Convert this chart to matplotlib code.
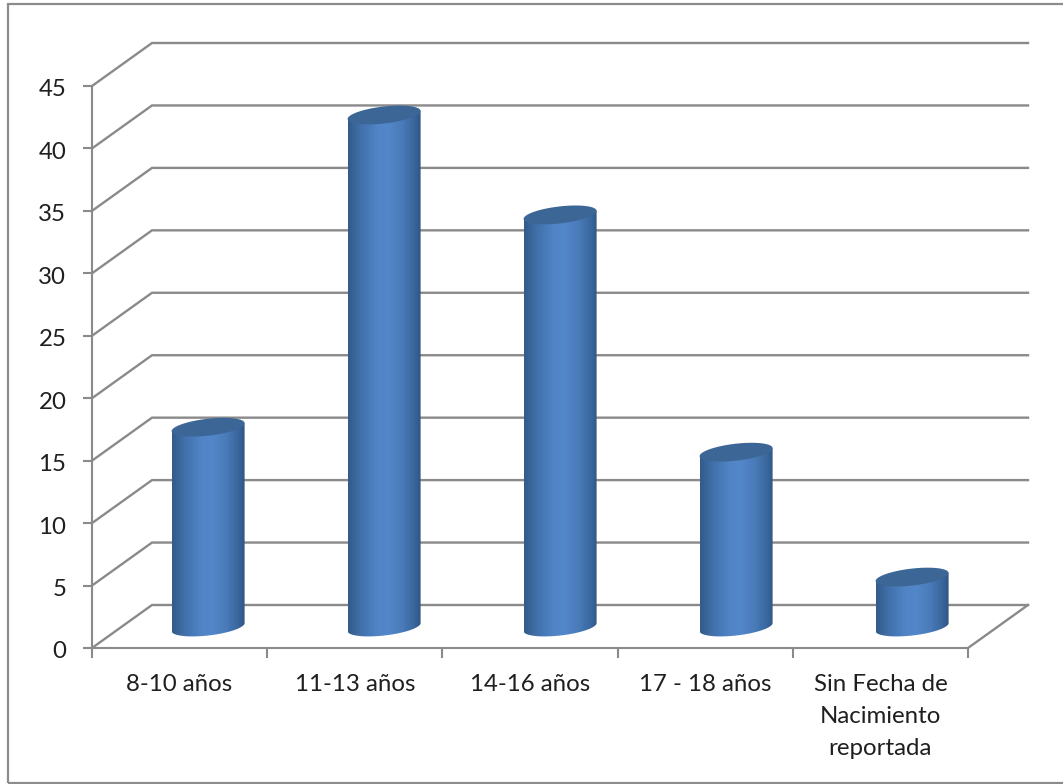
import numpy as np
import matplotlib
matplotlib.use("Agg")
import matplotlib.pyplot as plt
from matplotlib.patches import PathPatch, Rectangle
from matplotlib.path import Path
from matplotlib.transforms import ScaledTranslation

plt.rcParams['font.family'] = ['Lato', 'DejaVu Sans']

categorias = ['8-10 años', '11-13 años', '14-16 años', '17 - 18 años',
              'Sin Fecha de\nNacimiento\nreportada']
valores = [16, 41, 33, 14, 4]
ticks_y = [0, 5, 10, 15, 20, 25, 30, 35, 40, 45]

W, H = 1063, 784
GRIS = '#8a8a8a'
TEXTO = '#1f1f1f'

fig = plt.figure(figsize=(W/100, H/100), dpi=100, facecolor='white')
# marco exterior del grafico (el lado derecho queda fuera de la imagen)
fig.add_artist(Rectangle((8/W, 1-783/H), (1080-8)/W, (783-4)/H, transform=fig.transFigure,
                         fill=False, ec='#8c8c8c', lw=1.6))

# el eje ocupa solo el plano frontal; lo demas se dibuja fuera sin recorte
x0, x1, y0, y1 = 92, 968, 648, 86
ax = fig.add_axes([x0/W, 1-y0/H, (x1-x0)/W, (y0-y1)/H])
ax.set_xlim(0, 5)
ax.set_ylim(0, 45)
ax.patch.set_visible(False)
for s in ['top', 'right']:
    ax.spines[s].set_visible(False)
for s in ['left', 'bottom']:
    ax.spines[s].set_color(GRIS)
    ax.spines[s].set_linewidth(1.5)

px_x = 5/(x1-x0)
px_y = 45/(y0-y1)
prof_x = 60*px_x
prof_y = 43*px_y

# rejilla con perspectiva
for t in ticks_y:
    ax.plot([0, prof_x, 5+prof_x], [t, t+prof_y, t+prof_y], color=GRIS, lw=1.7,
            clip_on=False, solid_joinstyle='miter', zorder=1)
ax.plot([5, 5+prof_x], [0, prof_y], color=GRIS, lw=1.7, clip_on=False, zorder=1)

# barras cilindricas
a = 36.5*px_x
b = 8.5*px_y
incl = 4*px_y
desp_x = 28.5*px_x
paso = 176*px_x
base = 1.68
grad = np.array([0.0, 0.18, 0.4, 0.55, 0.75, 0.92, 1.0])
c1 = np.array(matplotlib.colors.to_rgb('#2e5685'))
c2 = np.array(matplotlib.colors.to_rgb('#5287ca'))
tono = np.array([0.1, 0.55, 0.95, 1.0, 0.75, 0.3, 0.0])
u = np.linspace(0, 1, 200)
mezcla = np.interp(u, grad, tono)
img = (c1[None, :]*(1-mezcla[:, None]) + c2[None, :]*mezcla[:, None])[None, :, :]

for i, v in enumerate(valores):
    cx = 0.5+i*paso+desp_x
    arriba = v+base
    t = np.linspace(np.pi, 2*np.pi, 60)
    # cara inferior del cuerpo y cierre por arriba
    xs = np.concatenate([cx+a*np.cos(t), cx+a*np.cos(t[::-1])])
    ys = np.concatenate([base+b*np.sin(t)+incl*np.cos(t), arriba+incl*np.cos(t[::-1])])
    im = ax.imshow(img, extent=[cx-a, cx+a, 0, arriba+2], aspect='auto', zorder=3, clip_on=True)
    im.set_clip_path(PathPatch(Path(np.column_stack([xs, ys])), transform=ax.transData))
    t2 = np.linspace(0, 2*np.pi, 120)
    ax.fill(cx+a*np.cos(t2), arriba+b*np.sin(t2)+incl*np.cos(t2), color='#3c6696', lw=0,
            zorder=4, clip_on=False)

ax.set_xlim(0, 5)
ax.set_ylim(0, 45)

ax.set_yticks(ticks_y)
ax.set_xticks(np.arange(0, 6))
ax.set_xticklabels([])
ax.set_xticks(np.arange(5)+0.5, categorias, minor=True)
ax.tick_params(axis='y', length=6.5, width=1.5, color=GRIS, labelsize=17.3, labelcolor=TEXTO, pad=12)
ax.tick_params(axis='x', which='major', length=7, width=1.5, color=GRIS)
ax.tick_params(axis='x', which='minor', length=0, labelsize=17.3, labelcolor=TEXTO, pad=19)
for lab in ax.get_xticklabels(minor=True):
    lab.set_linespacing(1.65)
# bajar un poco los numeros del eje y
for lab in ax.get_yticklabels():
    lab.set_transform(lab.get_transform()+ScaledTranslation(0, -2/100, fig.dpi_scale_trans))

fig.savefig('out.png', dpi=100)
